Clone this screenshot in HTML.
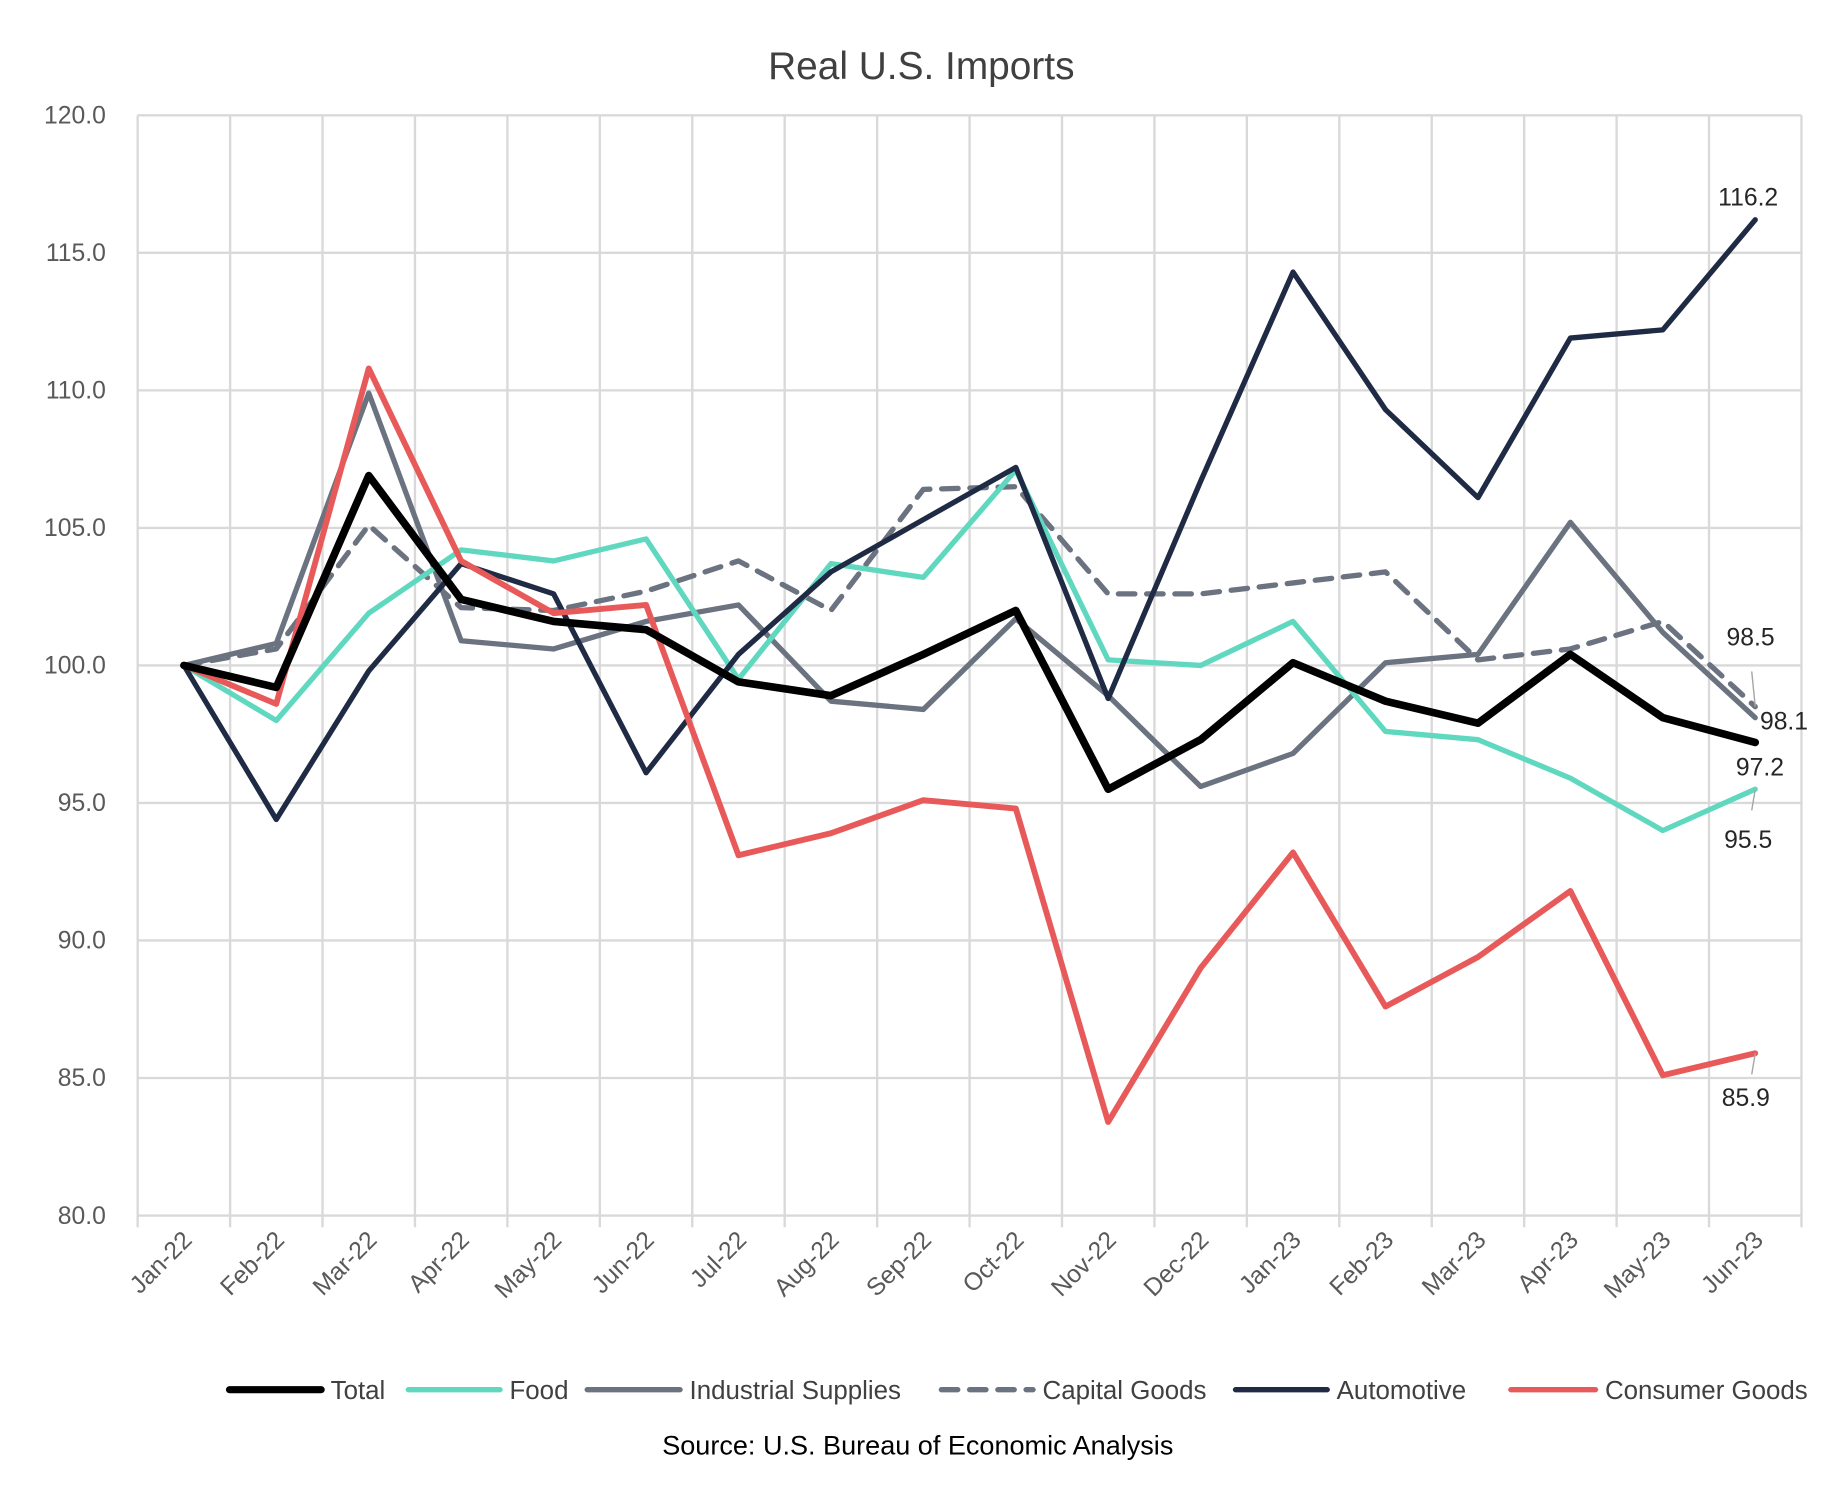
<!DOCTYPE html>
<html><head><meta charset="utf-8"><style>
html,body{margin:0;padding:0;background:#fff;}
svg{display:block;font-family:"Liberation Sans",sans-serif;}
</style></head><body>
<svg id="chart" width="1845" height="1487" viewBox="0 0 1568 1263.7" preserveAspectRatio="none" xmlns="http://www.w3.org/2000/svg">
<rect width="1568" height="1264" fill="#fff"/>
<text x="783" y="67" text-anchor="middle" font-size="33" fill="#404040">Real U.S. Imports</text>
<g id="grid"></g>
<g id="series"></g>
<g id="labels" font-size="21" fill="#262626"></g>
<g id="legend" font-size="22" fill="#404040"></g>
<text x="780" y="1236" text-anchor="middle" font-size="23" fill="#000">Source: U.S. Bureau of Economic Analysis</text>
</svg>
<script>
const categories=["Jan-22","Feb-22","Mar-22","Apr-22","May-22","Jun-22","Jul-22","Aug-22","Sep-22","Oct-22","Nov-22","Dec-22","Jan-23","Feb-23","Mar-23","Apr-23","May-23","Jun-23"];
const yTicks=[80,85,90,95,100,105,110,115,120];
const total=[100,99.2,106.9,102.4,101.6,101.3,99.4,98.9,100.4,102.0,95.5,97.3,100.1,98.7,97.9,100.4,98.1,97.2];
const food=[100,98.0,101.9,104.2,103.8,104.6,99.5,103.7,103.2,107.1,100.2,100.0,101.6,97.6,97.3,95.9,94.0,95.5];
const industrial=[100,100.8,109.9,100.9,100.6,101.6,102.2,98.7,98.4,101.7,98.9,95.6,96.8,100.1,100.4,105.2,101.2,98.1];
const capital=[100,100.6,105.1,102.1,102.0,102.7,103.8,102.0,106.4,106.5,102.6,102.6,103.0,103.4,100.2,100.6,101.6,98.5];
const automotive=[100,94.4,99.8,103.7,102.6,96.1,100.4,103.4,105.3,107.2,98.8,106.7,114.3,109.3,106.1,111.9,112.2,116.2];
const consumer=[100,98.6,110.8,103.8,101.9,102.2,93.1,93.9,95.1,94.8,83.4,89.0,93.2,87.6,89.4,91.8,85.1,85.9];

const NS="http://www.w3.org/2000/svg";
const L=117,R=1531,T=98,B=1033,yMin=80,yMax=120;
const step=(R-L)/categories.length;
const x=i=>L+step*(i+0.5);
const y=v=>B-(v-yMin)/(yMax-yMin)*(B-T);
function mk(tag,attrs,parent){const e=document.createElementNS(NS,tag);for(const k in attrs)e.setAttribute(k,attrs[k]);parent.appendChild(e);return e;}
const grid=document.getElementById('grid');
yTicks.forEach(v=>{
  const ln=mk('line',{x1:L,x2:R,y1:y(v),y2:y(v),stroke:'#d9d9d9','stroke-width':2},grid);
  
  
  const t=mk('text',{x:90,y:y(v)+7,'text-anchor':'end','font-size':21,fill:'#595959'},grid);
  t.textContent=v.toFixed(1);
  
  
});
for(let i=0;i<=categories.length;i++){
  const gx=L+step*i;
  const ln=mk('line',{x1:gx,x2:gx,y1:T,y2:B+10,stroke:'#d9d9d9','stroke-width':2},grid);
  
  
}
categories.forEach((c,i)=>{
  const tx=x(i)+8,ty=B+22;
  const t=mk('text',{x:tx,y:ty,'text-anchor':'end','font-size':21,fill:'#595959',transform:`rotate(-45 ${tx} ${ty})`},grid);
  t.textContent=c;
  
  
});
const seriesDefs=[
 {name:'Capital Goods',data:capital,color:'#6b7280',w:4.5,dash:'14 10'},
 {name:'Industrial Supplies',data:industrial,color:'#6b7280',w:4.5},
 {name:'Food',data:food,color:'#5fd8bf',w:4.5},
 {name:'Automotive',data:automotive,color:'#1f2a44',w:4.5},
 {name:'Consumer Goods',data:consumer,color:'#e85a5a',w:5},
 {name:'Total',data:total,color:'#000',w:6.5}
];
const sg=document.getElementById('series');
seriesDefs.forEach(s=>{
  const d=s.data.map((v,i)=>(i?'L':'M')+x(i).toFixed(1)+' '+y(v).toFixed(1)).join(' ');
  const p=mk('path',{d:d,fill:'none',stroke:s.color,'stroke-width':s.w,'stroke-linejoin':'round','stroke-linecap':'round'},sg);
  if(s.dash)p.setAttribute('stroke-dasharray',s.dash);
  
  
});
const lg=document.getElementById('labels');
const last=categories.length-1;
const endLabels=[
 {v:automotive[last],dx:-6,dy:-12,anchor:'middle'},
 {v:capital[last],dx:-4,dy:-52,anchor:'middle',leader:true},
 {v:industrial[last],dx:4,dy:10,anchor:'start'},
 {v:total[last],dx:4,dy:28,anchor:'middle'},
 {v:food[last],dx:-6,dy:50,anchor:'middle',leader:true},
 {v:consumer[last],dx:-8,dy:45,anchor:'middle',leader:true}
];
endLabels.forEach(e=>{
  const px=x(last),py=y(e.v);
  if(e.leader){
    const ln=mk('line',{x1:px,y1:py,x2:px-3,y2:py+(e.dy>0?18:-30),stroke:'#a6a6a6','stroke-width':1.2},lg);
    
    
  }
  const t=mk('text',{x:px+e.dx,y:py+e.dy,'text-anchor':e.anchor},lg);
  t.textContent=e.v.toFixed(1);
  
  
});
const leg=document.getElementById('legend');
const legendItems=[
 {name:'Total',color:'#000',w:6,x1:195,x2:273},
 {name:'Food',color:'#5fd8bf',w:4.5,x1:347,x2:425},
 {name:'Industrial Supplies',color:'#6b7280',w:4.5,x1:499,x2:578},
 {name:'Capital Goods',color:'#6b7280',w:4.5,x1:800,x2:878,dash:'14 10'},
 {name:'Automotive',color:'#1f2a44',w:4.5,x1:1050,x2:1128},
 {name:'Consumer Goods',color:'#e85a5a',w:4.5,x1:1284,x2:1356}
];
legendItems.forEach(it=>{
  const g=mk('g',{},leg);
  
  
  const ln=mk('line',{x1:it.x1,x2:it.x2,y1:1181,y2:1181,stroke:it.color,'stroke-width':it.w,'stroke-linecap':'round'},g);
  if(it.dash)ln.setAttribute('stroke-dasharray',it.dash);
  const t=mk('text',{x:it.x2+8,y:1189},g);
  t.textContent=it.name;
});
</script>
</body></html>
